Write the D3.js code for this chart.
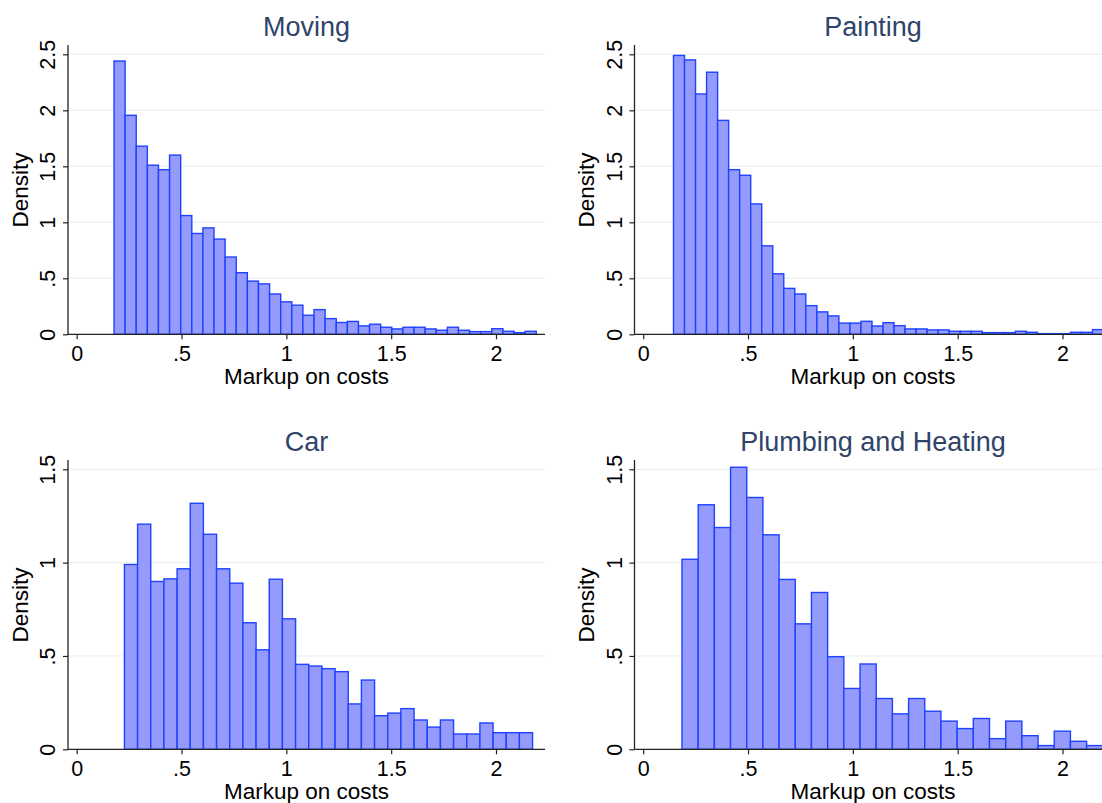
<!DOCTYPE html>
<html>
<head>
<meta charset="utf-8">
<script src="https://cdn.jsdelivr.net/npm/d3@7"></script>
<style>
  body { margin: 0; background: #fff; }
  text { font-family: "Liberation Sans", Arial, Helvetica, sans-serif; }
</style>
</head>
<body>
<div id="chart"></div>
<script>
// histogram densities (bin start + bin width in markup units)
const movingStart = 0.178, movingWidth = 0.0530;
const movingDensity = [2.44, 1.955, 1.68, 1.51, 1.47, 1.60, 1.06, 0.90, 0.95, 0.85, 0.69, 0.55,
  0.475, 0.45, 0.36, 0.29, 0.26, 0.17, 0.22, 0.14, 0.105, 0.115, 0.075, 0.09, 0.063, 0.048,
  0.063, 0.063, 0.048, 0.036, 0.063, 0.036, 0.024, 0.024, 0.05, 0.027, 0.015, 0.027];

const paintingStart = 0.1445, paintingWidth = 0.0526;
const paintingDensity = [2.49, 2.45, 2.146, 2.34, 1.91, 1.47, 1.42, 1.164, 0.79, 0.54, 0.41,
  0.36, 0.256, 0.20, 0.164, 0.10, 0.10, 0.116, 0.074, 0.104, 0.077, 0.048, 0.048, 0.039, 0.039,
  0.027, 0.027, 0.027, 0.015, 0.015, 0.015, 0.027, 0.018, 0.006, 0.006, 0.006, 0.018, 0.018, 0.042];

const carStart = 0.2276, carWidth = 0.0628;
const carDensity = [0.99, 1.206, 0.899, 0.913, 0.967, 1.318, 1.152, 0.967, 0.89, 0.678, 0.533,
  0.911, 0.699, 0.455, 0.446, 0.432, 0.416, 0.243, 0.371, 0.18, 0.194, 0.218, 0.157, 0.119,
  0.157, 0.082, 0.082, 0.141, 0.089, 0.089, 0.089];

const plumbingStart = 0.185, plumbingWidth = 0.0772;
const plumbingDensity = [1.018, 1.31, 1.188, 1.511, 1.349, 1.149, 0.91, 0.672, 0.84, 0.496,
  0.326, 0.457, 0.272, 0.19, 0.272, 0.204, 0.151, 0.111, 0.165, 0.057, 0.151, 0.073, 0.02,
  0.097, 0.043, 0.02];

const titles = ["Moving", "Painting", "Car", "Plumbing and Heating"];
const xTicks = [0, 0.5, 1, 1.5, 2];
const yTicksTop = [0, 0.5, 1, 1.5, 2, 2.5];
const yTicksBottom = [0, 0.5, 1, 1.5];

const width = 1102, height = 803;
const fillCol = "#959bfc", strokeCol = "#1f42ff", titleCol = "#2f4468", gridCol = "#e7eff1";

const svg = d3.select("#chart").append("svg")
  .attr("width", width)
  .attr("height", height);

const panels = [
  {title: titles[0], vals: movingDensity, start: movingStart, bw: movingWidth, yMax: 2.5, yTicks: yTicksTop, dx: 0, dy: 0},
  {title: titles[1], vals: paintingDensity, start: paintingStart, bw: paintingWidth, yMax: 2.5, yTicks: yTicksTop, dx: 566.5, dy: 0},
  {title: titles[2], vals: carDensity, start: carStart, bw: carWidth, yMax: 1.5, yTicks: yTicksBottom, dx: 0, dy: 415},
  {title: titles[3], vals: plumbingDensity, start: plumbingStart, bw: plumbingWidth, yMax: 1.5, yTicks: yTicksBottom, dx: 566.5, dy: 415}
];

const fmt = d => d === 0 ? "0" : String(d).replace(/^0\./, ".");

// panel geometry (relative to panel origin)
const axisX = 68, plotRight = 545, plotTop = 45, baseY = 334.3, topY = 54.3;
const x0px = 76.7, x2px = 496;

panels.forEach(p => {
  const g = svg.append("g").attr("transform", `translate(${p.dx},${p.dy})`);

  const x = d3.scaleLinear().domain([0, 2]).range([x0px, x2px]);
  const y = d3.scaleLinear().domain([0, p.yMax]).range([baseY, topY]);

  // gridlines
  g.selectAll(".grid")
    .data(p.yTicks.filter(d => d > 0))
    .join("line")
    .attr("x1", axisX).attr("x2", plotRight)
    .attr("y1", d => y(d)).attr("y2", d => y(d))
    .attr("stroke", gridCol).attr("stroke-width", 1);

  // bars
  g.selectAll(".bar")
    .data(p.vals)
    .join("rect")
    .attr("x", (d, i) => x(p.start + i * p.bw))
    .attr("width", x(p.bw) - x(0))
    .attr("y", d => y(d))
    .attr("height", d => y(0) - y(d))
    .attr("fill", fillCol)
    .attr("stroke", strokeCol)
    .attr("stroke-width", 1.4);

  // x axis
  const xAxis = g.append("g")
    .attr("transform", `translate(0,${baseY})`)
    .call(d3.axisBottom(x).tickValues(xTicks).tickFormat(fmt).tickSize(5).tickSizeOuter(0));
  xAxis.select(".domain").remove();
  xAxis.selectAll("line").attr("stroke", "#222").attr("stroke-width", 1.2);
  xAxis.selectAll("text")
    .attr("y", 27).attr("dy", 0)
    .attr("fill", "#000")
    .style("font-size", "21.5px");

  // y axis
  const yAxis = g.append("g")
    .attr("transform", `translate(${axisX},0)`)
    .call(d3.axisLeft(y).tickValues(p.yTicks).tickFormat(fmt).tickSize(5).tickSizeOuter(0));
  yAxis.select(".domain").remove();
  yAxis.selectAll("line").attr("stroke", "#222").attr("stroke-width", 1.2);
  yAxis.selectAll("text")
    .attr("transform", "rotate(-90)")
    .attr("x", 0).attr("y", -13).attr("dy", 0)
    .attr("text-anchor", "middle")
    .attr("fill", "#000")
    .style("font-size", "21.5px");

  // axis lines
  g.append("line")
    .attr("x1", axisX).attr("x2", plotRight)
    .attr("y1", baseY).attr("y2", baseY)
    .attr("stroke", "#222").attr("stroke-width", 1.3);
  g.append("line")
    .attr("x1", axisX).attr("x2", axisX)
    .attr("y1", plotTop).attr("y2", baseY)
    .attr("stroke", "#222").attr("stroke-width", 1.3);

  // titles
  g.append("text")
    .attr("x", (axisX + plotRight) / 2).attr("y", 36)
    .attr("text-anchor", "middle")
    .attr("fill", titleCol)
    .style("font-size", "27px")
    .text(p.title);

  g.append("text")
    .attr("x", (axisX + plotRight) / 2).attr("y", 384)
    .attr("text-anchor", "middle")
    .attr("fill", "#000")
    .style("font-size", "22.5px")
    .text("Markup on costs");

  g.append("text")
    .attr("transform", `translate(27.5,190) rotate(-90)`)
    .attr("text-anchor", "middle")
    .attr("fill", "#000")
    .style("font-size", "22.5px")
    .text("Density");
});
</script>
</body>
</html>
